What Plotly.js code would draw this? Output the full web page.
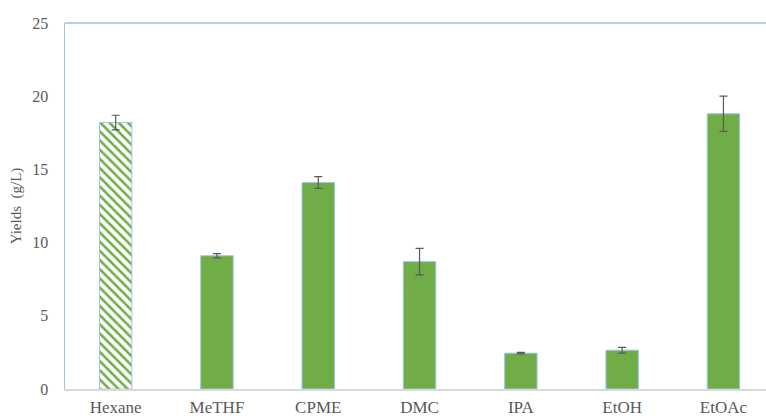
<!DOCTYPE html>
<html>
<head>
<meta charset="utf-8">
<script src="https://cdn.plot.ly/plotly-3.0.1.min.js"></script>
<style>html,body{margin:0;padding:0;background:#fff;}#chart{width:766px;height:416px;}</style>
</head>
<body>
<div id="chart"></div>
<script>
const categories = ["Hexane", "MeTHF", "CPME", "DMC", "IPA", "EtOH", "EtOAc"];
const yields = [18.2, 9.1, 14.1, 8.7, 2.45, 2.65, 18.8];
const errors = [0.5, 0.15, 0.4, 0.9, 0.05, 0.2, 1.2];
const yTicks = [0, 5, 10, 15, 20, 25];

const green = "#70AD47";
const edge = "#9DC3E6";
const errStyle = {color: "#595959", thickness: 1.2, width: 4};

// Hexane (control) drawn hatched, the rest solid
const hatched = {
  type: "bar",
  x: categories.slice(0, 1),
  y: yields.slice(0, 1),
  width: 0.32,
  marker: {
    color: "#ffffff",
    line: {color: edge, width: 1},
    pattern: {shape: "\\", fgcolor: green, bgcolor: "#ffffff", size: 6.5, solidity: 0.4, fillmode: "replace"}
  },
  error_y: Object.assign({type: "data", array: errors.slice(0, 1), visible: true}, errStyle),
  hoverinfo: "none"
};

const solid = {
  type: "bar",
  x: categories.slice(1),
  y: yields.slice(1),
  width: 0.32,
  marker: {color: green, line: {color: edge, width: 1}},
  error_y: Object.assign({type: "data", array: errors.slice(1), visible: true}, errStyle),
  hoverinfo: "none"
};

const fam = "Liberation Serif, Times New Roman, serif";

const layout = {
  width: 766, height: 416,
  margin: {l: 65, r: 0, t: 23, b: 27},
  paper_bgcolor: "#fff", plot_bgcolor: "#fff",
  showlegend: false,
  barmode: "overlay",
  font: {family: fam, color: "#595959", size: 16},
  xaxis: {
    type: "category",
    categoryarray: categories, categoryorder: "array",
    range: [-0.5, 6.42],
    showline: true, linecolor: "#d9d9d9", linewidth: 1.5,
    showgrid: false, zeroline: false, ticks: "",
    ticklabelstandoff: 2,
    tickfont: {family: fam, color: "#595959", size: 17}
  },
  yaxis: {
    range: [0, 25],
    tickvals: yTicks,
    showline: true, linecolor: edge, linewidth: 1.5,
    showgrid: false, zeroline: false, ticks: "",
    ticklabelstandoff: 12,
    tickfont: {family: fam, color: "#595959", size: 16},
    title: {text: "Yields  (g/L)", font: {family: fam, color: "#595959", size: 15}, standoff: 7}
  },
  shapes: [
    {type: "line", xref: "paper", yref: "paper", x0: 0, x1: 1, y0: 1, y1: 1, line: {color: edge, width: 1.5}}
  ]
};

Plotly.newPlot("chart", [hatched, solid], layout, {staticPlot: true, displayModeBar: false});
</script>
</body>
</html>
